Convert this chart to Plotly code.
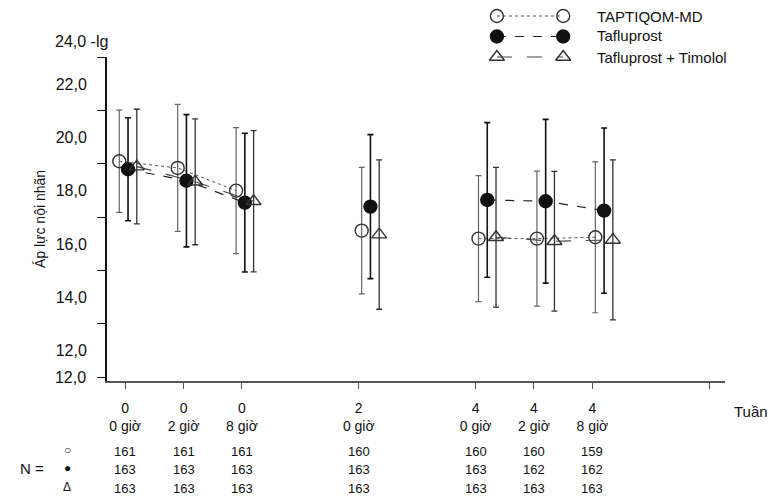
import plotly.graph_objects as go

# ---------------- data ----------------
slots = [0, 1, 2, 4, 6, 7, 8]
week_labels = ["0", "0", "0", "2", "4", "4", "4"]
hour_labels = ["0 giờ", "2 giờ", "8 giờ", "0 giờ", "0 giờ", "2 giờ", "8 giờ"]
groups = [[0, 1, 2], [3], [4, 5, 6]]

series_names = ["TAPTIQOM-MD", "Tafluprost", "Tafluprost + Timolol"]
taptiqom_mean = [19.1, 18.85, 18.0, 16.5, 16.2, 16.2, 16.25]
taptiqom_sd = [1.92, 2.38, 2.36, 2.37, 2.36, 2.53, 2.83]
taflu_mean = [18.8, 18.37, 17.55, 17.4, 17.65, 17.6, 17.25]
taflu_sd = [1.93, 2.48, 2.6, 2.7, 2.9, 3.07, 3.1]
combo_mean = [18.9, 18.33, 17.6, 16.35, 16.25, 16.1, 16.15]
combo_sd = [2.15, 2.36, 2.65, 2.8, 2.62, 2.62, 3.0]

n_taptiqom = [161, 161, 161, 160, 160, 160, 159]
n_taflu = [163, 163, 163, 163, 163, 162, 162]
n_combo = [163, 163, 163, 163, 163, 163, 163]

y_label_vals = [12, 14, 16, 18, 20, 22]
y_label_text = ["12,0", "14,0", "16,0", "18,0", "20,0", "22,0"]
y_tick_vals = [11, 13, 15, 17, 19, 21, 23]
y_tick_text = ["12,0", "", "", "", "", "", ""]

# ---------------- styling ----------------
FONT = "Arial, Liberation Sans, sans-serif"
series_offsets = [-0.1, 0.05, 0.2]
group_shift = [0, 0, 0, 0.15, 0.15, 0.15, 0.15]
styles = [
    dict(symbol="circle-open", mcolor="#333", msize=13, dash="dot", lcolor="#555", lw=1.0,
         ecolor="#666", ew=1.2),
    dict(symbol="circle", mcolor="#111", msize=13, dash="dash", lcolor="#222", lw=1.2,
         ecolor="#111", ew=1.6),
    dict(symbol="triangle-up-open", mcolor="#333", msize=13, dash="longdash", lcolor="#444", lw=1.1,
         ecolor="#333", ew=1.3),
]

fig = go.Figure()

all_means = [taptiqom_mean, taflu_mean, combo_mean]
all_sds = [taptiqom_sd, taflu_sd, combo_sd]

for k, (name, means, sds, st) in enumerate(zip(series_names, all_means, all_sds, styles)):
    xs, ys, es = [], [], []
    for gi, grp in enumerate(groups):
        if gi > 0:
            xs.append(None); ys.append(None); es.append(0)
        for i in grp:
            xs.append(slots[i] + group_shift[i] + series_offsets[k])
            ys.append(means[i])
            es.append(sds[i])
    fig.add_trace(go.Scatter(
        x=xs, y=ys, name=name, mode="lines+markers", connectgaps=False,
        line=dict(color=st["lcolor"], width=st["lw"], dash=st["dash"]),
        marker=dict(symbol=st["symbol"], size=st["msize"], color=st["mcolor"],
                    line=dict(color=st["mcolor"], width=1.4)),
        error_y=dict(type="data", array=es, visible=True, color=st["ecolor"],
                     thickness=st["ew"], width=3),
        showlegend=False,
    ))

# helper trace for the overlay label axis
fig.add_trace(go.Scatter(x=[None], y=[None], yaxis="y3", showlegend=False, hoverinfo="skip"))

# manual legend samples (two markers joined by the series line)
for k, st in enumerate(styles):
    fig.add_trace(go.Scatter(
        x=[0, 1], y=[k, k], xaxis="x2", yaxis="y2", mode="lines+markers",
        line=dict(color=st["lcolor"], width=st["lw"], dash=st["dash"]),
        marker=dict(symbol=st["symbol"], size=st["msize"], color=st["mcolor"],
                    line=dict(color=st["mcolor"], width=1.4)),
        showlegend=False, hoverinfo="skip",
    ))

annotations = []
legend_rows_y = [0.9707, 0.9176, 0.8617]
for k, name in enumerate(series_names):
    annotations.append(dict(text=name, xref="paper", yref="paper", x=0.79, y=legend_rows_y[k],
                            xanchor="left", yanchor="middle", showarrow=False,
                            font=dict(size=15, family=FONT, color="#111")))

annotations.append(dict(text="24,0 -lg", xref="paper", yref="paper", x=-0.0874, y=0.9016,
                        xanchor="left", yanchor="middle", showarrow=False,
                        font=dict(size=16, family=FONT, color="#111")))
annotations.append(dict(text="Tuần", xref="paper", yref="paper", x=1.0113, y=-0.0798,
                        xanchor="left", yanchor="middle", showarrow=False,
                        font=dict(size=15, family=FONT, color="#111")))
annotations.append(dict(text="N =", xref="paper", yref="paper", x=-0.144, y=-0.2314,
                        xanchor="left", yanchor="middle", showarrow=False,
                        font=dict(size=15, family=FONT, color="#111")))
for sym, yy in zip(["○", "●", "Δ"], [-0.1835, -0.2314, -0.2819]):
    annotations.append(dict(text=sym, xref="paper", yref="paper", x=-0.0647, y=yy,
                            xanchor="center", yanchor="middle", showarrow=False,
                            font=dict(size=12, family=FONT, color="#111")))
n_rows_y = [-0.1888, -0.2367, -0.2846]
for row, ns in enumerate([n_taptiqom, n_taflu, n_combo]):
    for i, n in enumerate(ns):
        annotations.append(dict(text=str(n), xref="x", yref="paper", x=slots[i], y=n_rows_y[row],
                                xanchor="center", yanchor="middle", showarrow=False,
                                font=dict(size=13, family=FONT, color="#111")))

tick_text = [f"{w}<br>{h}" for w, h in zip(week_labels, hour_labels)] + [""]

fig.update_layout(
    width=778, height=501,
    margin=dict(l=107, r=53, t=5, b=120),
    paper_bgcolor="white", plot_bgcolor="white",
    font=dict(family=FONT, size=13, color="#111"),
    xaxis=dict(range=[-0.31, 10.27], tickvals=slots + [10], ticktext=tick_text,
               ticks="outside", ticklen=6, tickcolor="#555", showline=True, linecolor="#555",
               linewidth=1.5, showgrid=False, zeroline=False, anchor="y",
               tickfont=dict(size=14, family=FONT), ticklabelstandoff=7),
    yaxis=dict(domain=[0, 0.8617], range=[10.86, 23.01], tickvals=y_tick_vals, ticktext=y_tick_text,
               ticks="outside", ticklen=8, tickcolor="#111", showline=True, linecolor="#111",
               linewidth=1.5, showgrid=False, zeroline=False, anchor="x",
               tickfont=dict(size=16, family=FONT), ticklabelstandoff=8,
               title=dict(text="Áp lực nội nhãn", font=dict(size=14, family=FONT), standoff=6)),
    yaxis3=dict(overlaying="y", side="left", range=[10.86, 23.01], tickvals=y_label_vals,
                ticktext=y_label_text, ticks="outside", ticklen=8, tickcolor="rgba(0,0,0,0)",
                showline=False, showgrid=False, zeroline=False, anchor="x",
                tickfont=dict(size=16, family=FONT), ticklabelstandoff=8),
    xaxis2=dict(domain=[0.6, 0.8], range=[-0.288, 1.576], visible=False, anchor="y2"),
    yaxis2=dict(domain=[0.8271, 1.0], range=[2.634, -0.537], visible=False, anchor="x2"),
    annotations=annotations,
    showlegend=False,
)

fig.write_html("out.html", config={"displayModeBar": False},
               post_script="document.body.style.margin='0px';")
